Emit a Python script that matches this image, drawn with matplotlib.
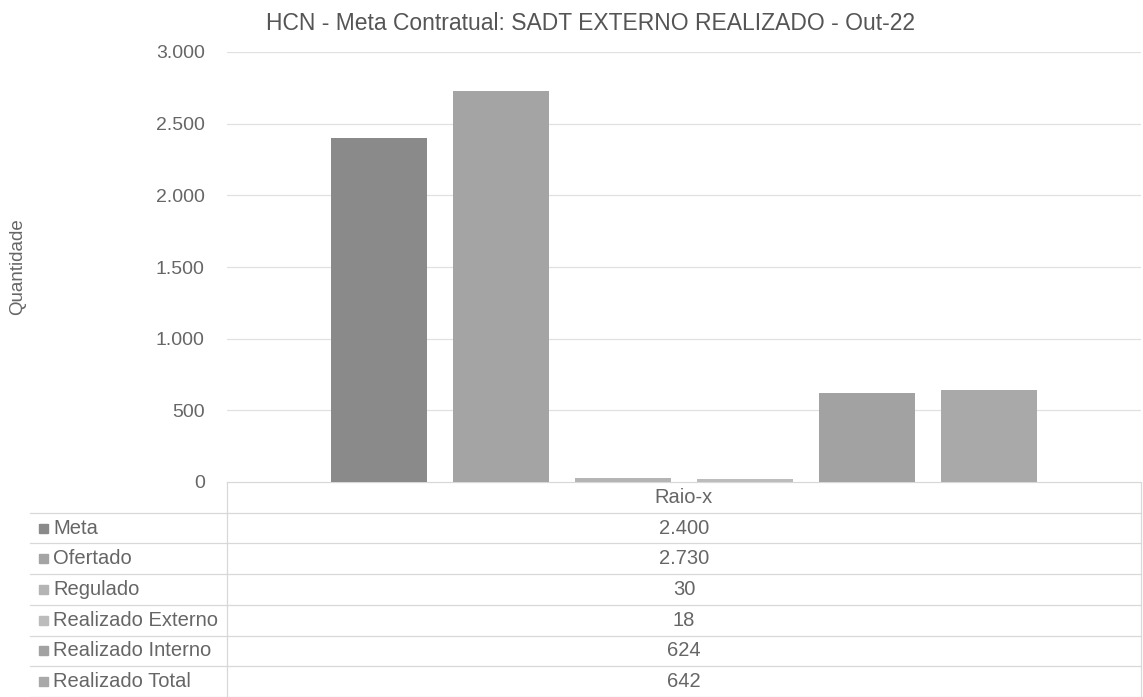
import matplotlib
matplotlib.use('Agg')
import matplotlib.pyplot as plt
from matplotlib.patches import Rectangle
from matplotlib.ticker import FuncFormatter

# data
category = 'Raio-x'
series = ['Meta', 'Ofertado', 'Regulado', 'Realizado Externo', 'Realizado Interno', 'Realizado Total']
values = [2400, 2730, 30, 18, 624, 642]
colors = ['#8a8a8a', '#a4a4a4', '#b4b4b4', '#bcbcbc', '#a2a2a2', '#a9a9a9']
title = 'HCN - Meta Contratual: SADT EXTERNO REALIZADO - Out-22'
yticks = [0, 500, 1000, 1500, 2000, 2500, 3000]


def fmt(v):
    return f'{v:,.0f}'.replace(',', '.')


plt.rcParams['font.family'] = ['Liberation Sans', 'DejaVu Sans']
W, H = 1143, 697
fig = plt.figure(figsize=(W / 100, H / 100), dpi=100)

# pixel layout
x0, x1 = 227, 1141
y_top, y_base = 52, 482
txt = '#666666'

ax = fig.add_axes([x0 / W, (H - y_base) / H, (x1 - x0) / W, (y_base - y_top) / H])
pitch = 122 / (x1 - x0)
width = 96.5 / (x1 - x0)
n = len(series)
for i, (s, v, c) in enumerate(zip(series, values, colors)):
    ax.bar((i - (n - 1) / 2) * pitch, v, width=width, color=c, zorder=2)
ax.set_xlim(-0.5, 0.5)
ax.set_ylim(0, 3000)
ax.set_yticks(yticks)
ax.yaxis.set_major_formatter(FuncFormatter(lambda v, p: fmt(v)))
ax.set_xticks([])
ax.grid(axis='y', color='#e0e0e0', linewidth=0.9, zorder=0)
for sp in ax.spines.values():
    sp.set_visible(False)
ax.tick_params(axis='y', length=0, pad=16, labelsize=14, labelcolor=txt)
ax.set_ylabel('Quantidade', fontsize=13.5, color=txt)
ax.yaxis.set_label_coords(-(x0 - 18) / (x1 - x0), 0.5)
ax.yaxis.label.set_va('center')
fig.text(591 / W, 1 - 23 / H, title, ha='center', va='center',
         fontsize=16.5, color='#555555')

# data table below the plot, drawn in pixel coordinates
tax = fig.add_axes([0, 0, 1, (H - y_base) / H])
tax.set_xlim(0, W)
tax.set_ylim(H, y_base)
tax.axis('off')
row_h = (H - y_base) / (n + 1)
line_c = '#d8d8d8'
tax.plot([x0, x1], [y_base, y_base], color=line_c, lw=0.9)
for k in range(1, n + 2):
    y = y_base + k * row_h
    tax.plot([30, x1], [y, y], color=line_c, lw=0.9)
tax.plot([x0, x0], [y_base, H], color=line_c, lw=0.9)
tax.plot([x1, x1], [y_base, H], color=line_c, lw=0.9)
tax.text((x0 + x1) / 2, y_base + row_h / 2, category, ha='center', va='center',
         fontsize=14.5, color=txt)
for i, (s, v, c) in enumerate(zip(series, values, colors)):
    yc = y_base + (i + 1.5) * row_h
    tax.add_patch(Rectangle((39, yc - 4.5), 9, 9, color=c))
    tax.text(53, yc, s, ha='left', va='center', fontsize=14.5, color=txt)
    tax.text((x0 + x1) / 2, yc, fmt(v), ha='center', va='center', fontsize=14.5, color=txt)

fig.savefig('out.png', dpi=100)
